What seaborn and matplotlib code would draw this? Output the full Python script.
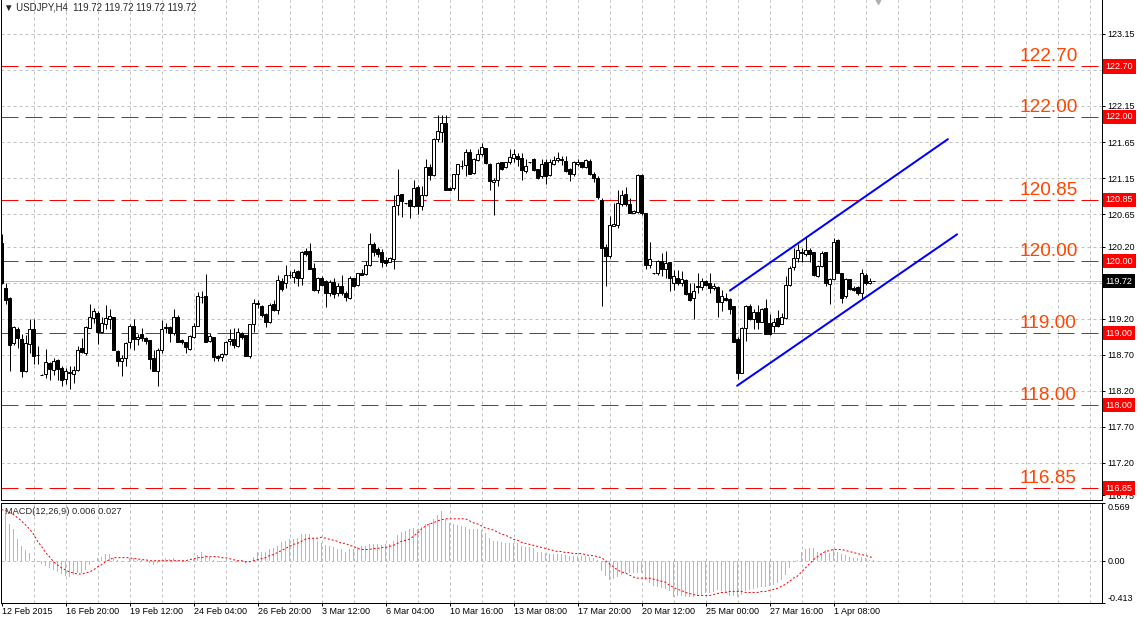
import matplotlib
matplotlib.use('Agg')
import matplotlib.pyplot as plt
import matplotlib.transforms as mtransforms
import numpy as np
import pandas as pd
import seaborn as sns

# H4 candles, 12 Feb 2015 .. 1 Apr 2015
opens = [120.25, 119.63, 119.48, 118.86, 119.05, 118.92, 118.47, 118.85, 119.06, 118.70,
         118.42, 118.43, 118.58, 118.49, 118.63, 118.52, 118.36, 118.45, 118.43, 118.49,
         118.79, 118.73, 119.07, 119.21, 119.28, 119.02, 119.13, 119.20, 119.22, 118.75,
         118.61, 118.65, 118.87, 119.10, 118.92, 118.99, 118.93, 118.90, 118.66, 118.48,
         118.76, 119.07, 119.08, 119.00, 119.22, 118.90, 118.87, 118.78, 118.95, 119.10,
         119.50, 119.52, 118.89, 118.95, 118.68, 118.67, 118.71, 118.89, 118.92, 118.82,
         119.00, 118.97, 118.68, 119.13, 119.42, 119.38, 119.26, 119.16, 119.41, 119.32,
         119.72, 119.69, 119.80, 119.78, 119.86, 119.77, 120.14, 120.14, 119.90, 119.60,
         119.76, 119.72, 119.56, 119.71, 119.55, 119.65, 119.56, 119.49, 119.76, 119.67,
         119.83, 119.82, 119.94, 120.23, 120.16, 120.12, 120.01, 119.99, 120.03, 120.78,
         120.93, 120.80, 120.85, 120.76, 121.03, 120.76, 120.92, 121.30, 121.19, 121.69,
         121.79, 121.91, 121.01, 121.01, 121.20, 121.32, 121.33, 121.51, 121.22, 121.40,
         121.48, 121.57, 121.35, 121.10, 121.12, 121.38, 121.30, 121.37, 121.43, 121.46,
         121.43, 121.25, 121.37, 121.41, 121.27, 121.18, 121.37, 121.19, 121.35, 121.40,
         121.42, 121.39, 121.28, 121.21, 121.35, 121.37, 121.31, 121.39, 121.21, 121.15,
         120.85, 120.20, 120.07, 120.49, 120.50, 120.79, 120.93, 120.79, 120.66, 120.68,
         121.19, 120.66, 119.95, 119.83, 119.83, 120.00, 119.89, 119.98, 119.70, 119.77,
         119.70, 119.74, 119.56, 119.49, 119.66, 119.64, 119.72, 119.69, 119.63, 119.64,
         119.43, 119.49, 119.47, 119.37, 118.92, 118.45, 119.07, 119.38, 119.20, 119.29,
         119.16, 119.35, 119.14, 119.10, 119.21, 119.13, 119.21, 119.67, 119.92, 120.04,
         120.13, 120.10, 120.15, 120.12, 119.79, 119.93, 120.12, 119.68, 119.75, 120.29,
         119.84, 119.51, 119.75, 119.62, 119.64, 119.55, 119.81, 119.70, 119.72]
highs = [120.37, 119.70, 119.50, 119.10, 119.09, 118.99, 118.98, 119.19, 119.19, 118.82,
         118.43, 118.78, 118.60, 118.65, 118.64, 118.54, 118.51, 118.54, 118.54, 118.82,
         118.93, 119.10, 119.41, 119.35, 119.30, 119.23, 119.39, 119.33, 119.23, 118.76,
         118.70, 118.88, 119.13, 119.19, 118.99, 119.07, 118.95, 118.91, 118.77, 118.79,
         119.18, 119.14, 119.10, 119.34, 119.25, 118.92, 118.88, 118.98, 119.14, 119.57,
         119.58, 119.82, 119.00, 118.95, 118.70, 118.72, 118.89, 119.05, 119.07, 119.07,
         119.01, 118.98, 119.13, 119.47, 119.46, 119.39, 119.28, 119.42, 119.46, 119.80,
         119.77, 119.95, 119.86, 119.89, 119.87, 120.14, 120.18, 120.25, 119.97, 119.78,
         119.79, 119.74, 119.73, 119.76, 119.70, 119.81, 119.58, 119.79, 119.77, 119.84,
         119.89, 120.00, 120.39, 120.27, 120.20, 120.17, 120.06, 120.05, 120.91, 121.28,
         120.93, 120.81, 120.86, 121.13, 121.05, 121.04, 121.41, 121.34, 121.71, 122.02,
         122.02, 122.02, 121.02, 121.21, 121.34, 121.40, 121.55, 121.56, 121.43, 121.55,
         121.64, 121.57, 121.36, 121.15, 121.38, 121.38, 121.38, 121.56, 121.55, 121.50,
         121.50, 121.41, 121.38, 121.43, 121.27, 121.41, 121.41, 121.41, 121.45, 121.51,
         121.46, 121.46, 121.29, 121.39, 121.41, 121.37, 121.41, 121.41, 121.23, 121.18,
         120.88, 120.23, 120.62, 120.80, 120.99, 120.99, 121.03, 120.87, 120.71, 121.20,
         121.20, 120.66, 120.26, 119.84, 120.02, 120.11, 120.14, 119.98, 119.88, 119.88,
         119.86, 119.75, 119.69, 119.70, 119.84, 119.76, 119.74, 119.83, 119.70, 119.65,
         119.60, 119.56, 119.49, 119.37, 118.95, 119.09, 119.39, 119.41, 119.33, 119.39,
         119.35, 119.47, 119.26, 119.21, 119.32, 119.28, 119.79, 119.93, 120.18, 120.23,
         120.18, 120.35, 120.18, 120.13, 119.95, 120.14, 120.12, 119.76, 120.32, 120.30,
         119.84, 119.76, 119.75, 119.65, 119.65, 119.89, 119.83, 119.77, 119.72]
lows = [119.68, 119.40, 118.48, 118.84, 118.80, 118.39, 118.46, 118.72, 118.57, 118.57,
        118.42, 118.38, 118.35, 118.42, 118.35, 118.26, 118.30, 118.22, 118.31, 118.47,
        118.72, 118.70, 119.07, 119.14, 118.85, 119.00, 119.05, 119.05, 118.77, 118.55,
        118.41, 118.54, 118.80, 118.77, 118.84, 118.89, 118.85, 118.50, 118.47, 118.27,
        118.72, 119.00, 118.87, 118.98, 118.87, 118.85, 118.72, 118.77, 118.93, 119.10,
        119.42, 118.87, 118.87, 118.61, 118.62, 118.61, 118.70, 118.84, 118.79, 118.81,
        118.92, 118.68, 118.66, 119.02, 119.35, 119.23, 119.09, 119.14, 119.30, 119.26,
        119.58, 119.63, 119.76, 119.70, 119.65, 119.67, 120.07, 119.89, 119.58, 119.56,
        119.65, 119.36, 119.51, 119.49, 119.51, 119.53, 119.45, 119.47, 119.64, 119.66,
        119.80, 119.81, 119.93, 120.07, 120.06, 119.91, 119.93, 119.98, 119.89, 120.64,
        120.61, 120.79, 120.60, 120.75, 120.65, 120.71, 120.90, 121.12, 121.18, 121.65,
        121.65, 120.98, 120.98, 120.99, 120.84, 121.28, 121.18, 121.20, 121.21, 121.39,
        121.45, 121.34, 120.99, 120.64, 121.04, 121.26, 121.29, 121.34, 121.38, 121.32,
        121.12, 121.22, 121.36, 121.25, 121.14, 121.15, 121.07, 121.18, 121.33, 121.38,
        121.33, 121.23, 121.11, 121.18, 121.32, 121.29, 121.29, 121.19, 121.09, 120.86,
        119.38, 119.66, 120.04, 120.48, 120.46, 120.76, 120.76, 120.66, 120.66, 120.67,
        120.64, 119.89, 119.90, 119.82, 119.81, 119.79, 119.76, 119.59, 119.60, 119.67,
        119.65, 119.53, 119.44, 119.20, 119.56, 119.60, 119.65, 119.56, 119.60, 119.22,
        119.30, 119.44, 119.27, 118.88, 118.36, 118.44, 118.89, 119.18, 119.05, 119.05,
        119.15, 118.99, 118.98, 119.02, 119.08, 119.12, 119.20, 119.66, 119.88, 119.98,
        119.98, 120.07, 119.98, 119.79, 119.78, 119.92, 119.66, 119.41, 119.74, 119.83,
        119.42, 119.49, 119.60, 119.58, 119.53, 119.47, 119.67, 119.68, 119.72]
closes = [119.70, 119.46, 118.84, 119.09, 118.93, 118.48, 118.86, 119.05, 118.68, 118.70,
          118.42, 118.60, 118.50, 118.61, 118.50, 118.35, 118.47, 118.46, 118.49, 118.77,
          118.74, 119.08, 119.22, 119.30, 119.02, 119.14, 119.21, 119.24, 118.77, 118.62,
          118.65, 118.86, 119.10, 118.92, 118.95, 118.93, 118.89, 118.64, 118.48, 118.76,
          119.05, 119.08, 119.00, 119.23, 118.87, 118.87, 118.81, 118.96, 119.10, 119.52,
          119.50, 118.87, 118.96, 118.67, 118.66, 118.71, 118.88, 118.92, 118.84, 119.01,
          118.95, 118.68, 119.13, 119.42, 119.41, 119.25, 119.16, 119.39, 119.32, 119.73,
          119.61, 119.80, 119.80, 119.85, 119.77, 120.13, 120.10, 119.89, 119.60, 119.77,
          119.67, 119.56, 119.71, 119.54, 119.66, 119.56, 119.50, 119.76, 119.66, 119.83,
          119.81, 119.95, 120.24, 120.12, 120.10, 119.99, 119.97, 120.04, 120.76, 120.92,
          120.83, 120.80, 120.76, 121.01, 120.76, 120.92, 121.31, 121.19, 121.69, 121.80,
          121.92, 120.98, 120.99, 121.21, 121.34, 121.32, 121.51, 121.20, 121.42, 121.49,
          121.58, 121.36, 121.11, 121.13, 121.36, 121.28, 121.37, 121.44, 121.48, 121.41,
          121.26, 121.32, 121.37, 121.26, 121.15, 121.35, 121.18, 121.37, 121.40, 121.43,
          121.40, 121.25, 121.21, 121.38, 121.38, 121.31, 121.40, 121.20, 121.15, 120.89,
          120.18, 120.07, 120.50, 120.52, 120.80, 120.92, 120.79, 120.67, 120.69, 121.19,
          120.66, 119.95, 120.03, 119.83, 120.00, 119.89, 119.97, 119.76, 119.79, 119.70,
          119.75, 119.54, 119.46, 119.59, 119.64, 119.72, 119.67, 119.63, 119.66, 119.43,
          119.51, 119.46, 119.34, 118.88, 118.45, 119.07, 119.37, 119.20, 119.29, 119.16,
          119.34, 118.99, 118.99, 119.15, 119.10, 119.22, 119.67, 119.90, 120.04, 120.15,
          120.11, 120.15, 120.10, 119.80, 119.93, 120.11, 119.69, 119.75, 120.26, 119.84,
          119.49, 119.75, 119.61, 119.60, 119.55, 119.83, 119.70, 119.72, 119.72]

# MACD(12,26,9): main line (histogram) and signal line
macd_main = [0.569, 0.47, 0.36, 0.31, 0.21, 0.14, 0.10, 0.08, 0.00, -0.01,
             -0.03, -0.05, -0.07, -0.09, -0.11, -0.13, -0.15, -0.16, -0.14, -0.12,
             -0.12, -0.09, -0.04, 0.00, 0.03, 0.04, 0.07, 0.07, 0.03, 0.01,
             -0.01, 0.00, 0.03, 0.03, 0.01, 0.01, 0.00, -0.02, -0.04, -0.02,
             0.01, 0.03, 0.02, 0.03, 0.01, 0.00, -0.01, 0.00, 0.02, 0.06,
             0.09, 0.06, 0.04, 0.01, -0.01, -0.01, -0.01, 0.00, 0.00, 0.00,
             0.00, -0.02, 0.00, 0.04, 0.09, 0.09, 0.09, 0.11, 0.12, 0.14,
             0.18, 0.19, 0.21, 0.21, 0.22, 0.26, 0.26, 0.26, 0.22, 0.19,
             0.17, 0.15, 0.14, 0.13, 0.11, 0.11, 0.09, 0.11, 0.11, 0.13,
             0.14, 0.14, 0.16, 0.16, 0.16, 0.15, 0.16, 0.16, 0.19, 0.25,
             0.28, 0.29, 0.31, 0.32, 0.31, 0.33, 0.36, 0.37, 0.41, 0.45,
             0.49, 0.41, 0.37, 0.36, 0.35, 0.34, 0.33, 0.31, 0.31, 0.31,
             0.30, 0.27, 0.22, 0.19, 0.19, 0.18, 0.17, 0.17, 0.17, 0.17,
             0.14, 0.13, 0.13, 0.12, 0.09, 0.09, 0.08, 0.07, 0.07, 0.07,
             0.07, 0.06, 0.05, 0.05, 0.05, 0.05, 0.05, 0.04, 0.03, 0.01,
             -0.10, -0.15, -0.19, -0.18, -0.16, -0.14, -0.12, -0.12, -0.12, -0.12,
             -0.12, -0.19, -0.22, -0.25, -0.26, -0.27, -0.28, -0.30, -0.35, -0.34,
             -0.34, -0.35, -0.35, -0.35, -0.34, -0.33, -0.32, -0.32, -0.31, -0.29,
             -0.30, -0.32, -0.34, -0.34, -0.35, -0.33, -0.30, -0.29, -0.28, -0.27,
             -0.26, -0.26, -0.25, -0.24, -0.22, -0.19, -0.14, -0.07, -0.01, 0.01,
             0.09, 0.11, 0.12, 0.12, 0.09, 0.08, 0.10, 0.08, 0.11, 0.09,
             0.07, 0.06, 0.04, 0.03, 0.03, 0.04, 0.03, 0.01, 0.006]
macd_signal = [0.50, 0.49, 0.47, 0.45, 0.42, 0.39, 0.35, 0.31, 0.26, 0.19,
               0.14, 0.08, 0.04, -0.01, -0.04, -0.07, -0.09, -0.11, -0.12, -0.13,
               -0.13, -0.12, -0.11, -0.09, -0.06, -0.04, -0.01, 0.01, 0.03, 0.03,
               0.03, 0.03, 0.03, 0.02, 0.02, 0.01, 0.01, 0.00, 0.00, 0.00,
               0.00, 0.00, 0.00, 0.00, 0.00, 0.00, 0.00, 0.01, 0.02, 0.03,
               0.03, 0.04, 0.04, 0.04, 0.04, 0.03, 0.03, 0.02, 0.01, 0.00,
               0.00, -0.01, -0.01, 0.00, 0.01, 0.02, 0.03, 0.05, 0.06, 0.08,
               0.10, 0.12, 0.14, 0.16, 0.17, 0.19, 0.21, 0.22, 0.22, 0.22,
               0.23, 0.22, 0.21, 0.20, 0.19, 0.17, 0.17, 0.15, 0.14, 0.12,
               0.11, 0.11, 0.11, 0.12, 0.12, 0.13, 0.13, 0.14, 0.15, 0.17,
               0.19, 0.20, 0.21, 0.24, 0.27, 0.31, 0.34, 0.36, 0.37, 0.39,
               0.40, 0.41, 0.41, 0.41, 0.41, 0.41, 0.41, 0.39, 0.37, 0.36,
               0.34, 0.32, 0.31, 0.30, 0.28, 0.26, 0.25, 0.23, 0.21, 0.20,
               0.18, 0.17, 0.16, 0.15, 0.14, 0.13, 0.12, 0.11, 0.10, 0.09,
               0.09, 0.08, 0.08, 0.07, 0.07, 0.07, 0.06, 0.05, 0.05, 0.04,
               0.03, 0.00, -0.03, -0.06, -0.09, -0.11, -0.12, -0.14, -0.16, -0.17,
               -0.17, -0.17, -0.17, -0.18, -0.19, -0.20, -0.21, -0.24, -0.26, -0.28,
               -0.29, -0.31, -0.32, -0.33, -0.34, -0.34, -0.34, -0.34, -0.33, -0.32,
               -0.31, -0.31, -0.30, -0.30, -0.30, -0.30, -0.31, -0.31, -0.31, -0.31,
               -0.30, -0.30, -0.29, -0.28, -0.27, -0.25, -0.23, -0.20, -0.17, -0.15,
               -0.11, -0.07, -0.03, 0.01, 0.04, 0.07, 0.09, 0.10, 0.11, 0.11,
               0.11, 0.10, 0.09, 0.08, 0.07, 0.06, 0.05, 0.04, 0.027]

levels = [122.70, 122.00, 120.85, 120.00, 119.00, 118.00, 116.85]
last_price = 119.72
price_ticks = [123.15, 122.65, 122.15, 121.65, 121.15, 120.65, 120.20,
               119.70, 119.20, 118.70, 118.20, 117.70, 117.20]
hidden_ticks = [119.70]  # covered by the last-price box
bottom_tick = 116.75
macd_ticks = [0.569, 0.00, -0.413]
date_bars = [0, 16, 32, 48, 64, 80, 96, 112, 128, 144, 160, 176, 192, 208]
date_labels = ['12 Feb 2015', '16 Feb 20:00', '19 Feb 12:00', '24 Feb 04:00',
               '26 Feb 20:00', '3 Mar 12:00', '6 Mar 04:00', '10 Mar 16:00',
               '13 Mar 08:00', '17 Mar 20:00', '20 Mar 12:00', '25 Mar 00:00',
               '27 Mar 16:00', '1 Apr 08:00']
# trend channel anchors (bar index, price)
channel_upper_bars = [182.1, 236.6]
channel_upper_prices = [119.59, 121.69]
channel_lower_bars = [183.9, 238.9]
channel_lower_prices = [118.27, 120.37]
chart_shift_bar = 219

df = pd.DataFrame({'open': opens, 'high': highs, 'low': lows, 'close': closes,
                   'macd': macd_main, 'signal': macd_signal})
df['bar'] = np.arange(len(df))

sns.set_style('white')
plt.rcParams['font.family'] = ['Liberation Sans', 'DejaVu Sans']
plt.rcParams['lines.scale_dashes'] = False

W, H = 1143, 623
PX = 0.72  # one pixel in points
fig = plt.figure(figsize=(W / 100, H / 100), dpi=100)
fig.patch.set_facecolor('white')


def px_axes(x0, y0, x1, y1):
    return fig.add_axes([x0 / W, 1 - y1 / H, (x1 - x0) / W, (y1 - y0) / H])


ax = px_axes(0.5, 0, 1101.5, 500)
axm = px_axes(0.5, 502.5, 1101.5, 603)

xmin, xmax = -0.25, 275
ax.set_xlim(xmin, xmax)
axm.set_xlim(xmin, xmax)
ax.set_ylim(123.62 - 500 / 72.1, 123.62)
axm.set_ylim(-0.413, 0.569)

GRID = '#C0C0C0'
grid_dash = (3 * PX, 3 * PX)
grid_bars = np.arange(8, 276, 8)
for b in grid_bars:
    ax.axvline(b, color=GRID, lw=PX, dashes=grid_dash, zorder=0.5)
    axm.axvline(b, color=GRID, lw=PX, dashes=grid_dash, zorder=0.5)
for v in price_ticks:
    ax.axhline(v, color=GRID, lw=PX, dashes=grid_dash, zorder=0.5)
axm.axhline(0, color=GRID, lw=PX, dashes=grid_dash, zorder=0.5)

# last price line
ax.axhline(last_price, color=GRID, lw=PX, zorder=0.8)

# support / resistance levels
lvl_trans = mtransforms.offset_copy(ax.transData, fig=fig, x=0, y=5, units='dots')
for lvl in levels:
    ax.axhline(lvl, color='#FF0000', lw=PX, dashes=(17 * PX, 7 * PX), zorder=1)
    ax.text(254.6, lvl, f'{lvl:.2f}', color='#FF4500', fontsize=13.7,
            ha='left', va='baseline', transform=lvl_trans, zorder=5)

# candles
up = df['close'] >= df['open']
ax.vlines(df['bar'], df['low'], df['high'], colors='black', lw=PX, zorder=2)
body_lo = df[['open', 'close']].min(axis=1)
body_h = (df['close'] - df['open']).abs()
ax.bar(df['bar'], body_h, bottom=body_lo, width=0.55,
       color=np.where(up, 'white', 'black'), edgecolor='black', lw=PX, zorder=3)

# channel
sns.lineplot(x=channel_upper_bars, y=channel_upper_prices, ax=ax, color='#0000FF',
             lw=2 * PX, zorder=4)
sns.lineplot(x=channel_lower_bars, y=channel_lower_prices, ax=ax, color='#0000FF',
             lw=2 * PX, zorder=4)

ax.plot([chart_shift_bar], [ax.get_ylim()[1]], marker='v', color='#B0B0B0',
        markersize=6, clip_on=False, zorder=6)

# MACD panel
axm.bar(df['bar'], df['macd'], width=0.25, color='#B8B8B8', lw=0, zorder=2)
sns.lineplot(data=df, x='bar', y='signal', ax=axm, color='#FF0000', lw=PX,
             dashes=False, zorder=3)
axm.lines[-1].set_dashes((2 * PX, 2 * PX))
axm.set_xlabel('')
axm.set_ylabel('')
ax.set_xlabel('')
ax.set_ylabel('')

FS = 6.5
# price axis
ax.yaxis.tick_right()
ticks = price_ticks + [bottom_tick]
ax.set_yticks(ticks)
ax.set_yticklabels(['' if v in hidden_ticks else f'{v:.2f}' for v in ticks])
ax.tick_params(axis='y', right=True, left=False, length=3 * PX, width=PX,
               pad=2, labelsize=FS, colors='black', direction='out')
ax.set_xticks([])

axm.yaxis.tick_right()
axm.set_yticks(macd_ticks)
axm.set_yticklabels(['0.569', '0.00', '-0.413'])
axm.tick_params(axis='y', right=True, left=False, length=3 * PX, width=PX,
                pad=2, labelsize=FS, colors='black', direction='out')
labs = axm.get_yticklabels()
labs[0].set_verticalalignment('top')
labs[2].set_verticalalignment('bottom')

axm.set_xticks(date_bars)
axm.set_xticklabels(date_labels)
axm.tick_params(axis='x', bottom=True, length=3 * PX, width=PX, pad=1,
                labelsize=FS, colors='black', direction='out')
for lab in axm.get_xticklabels():
    lab.set_horizontalalignment('left')

for a in (ax, axm):
    for s in a.spines.values():
        s.set_color('black')
        s.set_linewidth(PX)
ax.spines['top'].set_visible(False)

# level boxes on the price axis
box_trans = mtransforms.offset_copy(
    mtransforms.blended_transform_factory(ax.transAxes, ax.transData),
    fig=fig, x=4, y=0, units='dots')
for lvl in levels:
    ax.text(1.0, lvl, f'{lvl:.2f}', color='white', fontsize=FS, ha='left',
            va='center', transform=box_trans, clip_on=False, zorder=7,
            bbox=dict(boxstyle='square,pad=0.3', fc='#FF0000', ec='none'))
ax.text(1.0, last_price, f'{last_price:.2f}', color='white', fontsize=FS, ha='left',
        va='center', transform=box_trans, clip_on=False, zorder=7,
        bbox=dict(boxstyle='square,pad=0.3', fc='black', ec='none'))

fig.text(4 / W, 1 - 8 / H, '\u25BC USDJPY,H4  119.72 119.72 119.72 119.72',
         fontsize=6.9, va='center', ha='left')
fig.text(5 / W, 1 - 512 / H, 'MACD(12,26,9) 0.006 0.027',
         fontsize=6.7, va='center', ha='left')

fig.savefig('out.png', dpi=100)
